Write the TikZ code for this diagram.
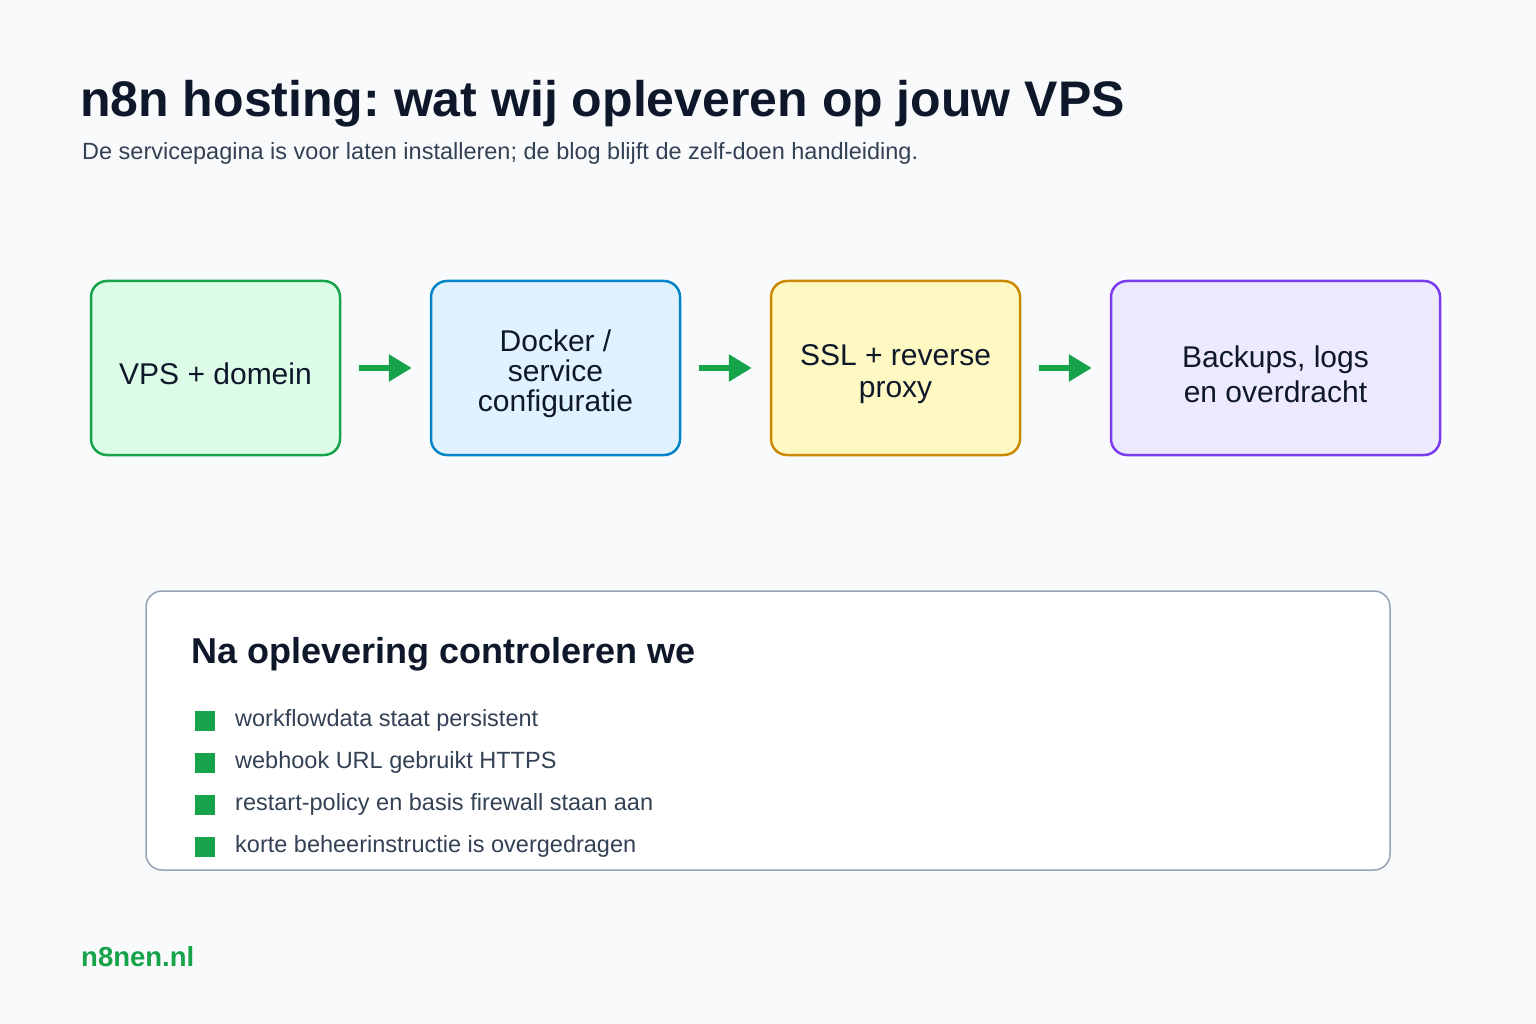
\documentclass[tikz,border=0pt]{standalone}
\usepackage{fontspec}
\setmainfont{Liberation Sans}
\usepackage{tikz}
\usetikzlibrary{arrows.meta,positioning}
\frenchspacing
\definecolor{pagebg}{HTML}{F8FAFC}
\definecolor{inkdark}{HTML}{0F172A}
\definecolor{inkgrey}{HTML}{334155}
\definecolor{okgreen}{HTML}{16A34A}
\definecolor{greenfill}{HTML}{DCFCE7}
\definecolor{bluedraw}{HTML}{0284C7}
\definecolor{bluefill}{HTML}{E0F2FE}
\definecolor{yellowdraw}{HTML}{CA8A04}
\definecolor{yellowfill}{HTML}{FEF9C3}
\definecolor{purpledraw}{HTML}{7C3AED}
\definecolor{purplefill}{HTML}{EDE9FE}
\definecolor{panelline}{HTML}{94A3B8}

\begin{document}
\begin{tikzpicture}[x=1pt, y=-1pt,
  stage/.style={rounded corners=16pt, line width=2.5pt, minimum width=249pt, minimum height=174pt},
  stagetext/.style={align=center, text=inkdark, inner sep=0pt, yshift=-6pt, font=\fontsize{30}{31}\selectfont},
  flow/.style={-{Triangle[length=23pt,width=26pt]}, line width=6pt, okgreen, shorten <=18pt, shorten >=18pt},
  tick/.style={fill=okgreen, minimum size=20pt, inner sep=0pt},
  item/.style={anchor=west, text=inkgrey, font=\fontsize{23.5}{27}\selectfont, inner sep=0pt}
]
\useasboundingbox (0,0) rectangle (1536,1024);
\fill[pagebg] (0,0) rectangle (1536,1024);

\node[anchor=base west, inner sep=0pt, text=inkdark, font=\fontsize{50}{56}\selectfont\bfseries] (title) at (80,117) {n8n hosting: wat wij opleveren op jouw VPS};
\node[anchor=base west, inner sep=0pt, text=inkgrey, font=\fontsize{23.5}{27}\selectfont] (subtitle) at (82,160) {De servicepagina is voor laten installeren; de blog blijft de zelf-doen handleiding.};

\node[stage, draw=okgreen, fill=greenfill] (vps) at (215.5,368) {};
\node[stagetext] (vpslabel) at (vps.center) {VPS + domein};
\node[stage, draw=bluedraw, fill=bluefill] (docker) at (555.5,368) {};
\node[stagetext, font=\fontsize{30}{30}\selectfont] (dockerlabel) at (docker.center) {Docker /\\service\\configuratie};
\node[stage, draw=yellowdraw, fill=yellowfill] (ssl) at (895.5,368) {};
\node[stagetext, font=\fontsize{30}{32}\selectfont] (ssllabel) at (ssl.center) {SSL + reverse\\proxy};
\node[stage, draw=purpledraw, fill=purplefill, minimum width=329pt] (backup) at (1275.5,368) {};
\node[stagetext, font=\fontsize{30}{35}\selectfont] (backuplabel) at (backup.center) {Backups, logs\\en overdracht};
\draw[flow] (vps) -- (docker);
\draw[flow] (docker) -- (ssl);
\draw[flow] (ssl) -- (backup);

\draw[panelline, fill=white, line width=1.5pt, rounded corners=16pt] (146,591) rectangle (1390,870);
\node[anchor=base west, inner sep=0pt, text=inkdark, font=\fontsize{36}{42}\selectfont\bfseries] (checkhead) at (191,663) {Na oplevering controleren we};

\node[tick] (t1) at (205,721) {};
\node[item] (c1) at (235,720) {workflowdata staat persistent};
\node[tick] (t2) at (205,763) {};
\node[item] (c2) at (235,762) {webhook URL gebruikt HTTPS};
\node[tick] (t3) at (205,805) {};
\node[item] (c3) at (235,804) {restart-policy en basis firewall staan aan};
\node[tick] (t4) at (205,847) {};
\node[item] (c4) at (235,846) {korte beheerinstructie is overgedragen};

\node[anchor=base west, inner sep=0pt, text=okgreen, font=\fontsize{27.5}{32}\selectfont\bfseries] (site) at (81,966) {n8nen.nl};
\end{tikzpicture}
\end{document}
